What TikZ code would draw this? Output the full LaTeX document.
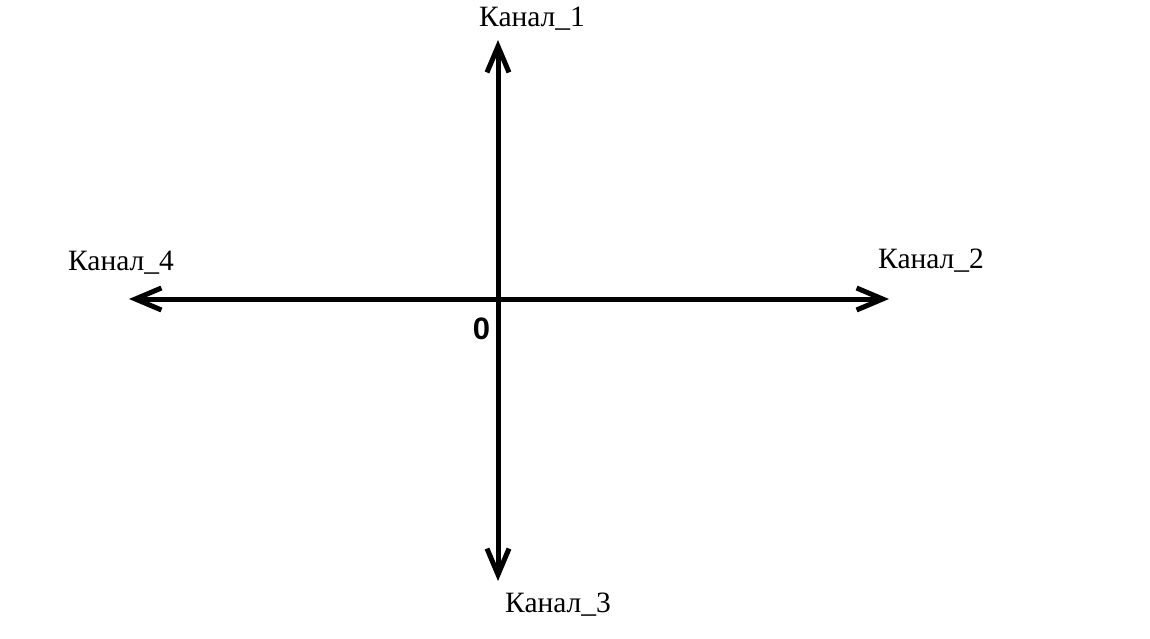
\documentclass[tikz,border=0pt]{standalone}
\usepackage{fontspec}
\setmainfont{Liberation Serif}
\newfontfamily\zerofont{Liberation Sans}
\usetikzlibrary{arrows.meta}
\tikzset{
  axis/.style={line width=5pt, line cap=round, -{Straight Barb[length=26pt,width=22pt,line width=5pt]}},
  chlabel/.style={inner sep=0pt, anchor=base west, font=\fontsize{29.5}{34}\selectfont},
  originlabel/.style={inner sep=0pt, font=\zerofont\bfseries\fontsize{31}{35}\selectfont}
}
\begin{document}
\begin{tikzpicture}[x=1pt,y=-1pt]
\useasboundingbox (0,0) rectangle (1150,639);
\fill[white] (0,0) rectangle (1150,639);
\coordinate (O) at (498,299);
\coordinate (top) at (498,40);
\coordinate (bottom) at (498,581);
\coordinate (left) at (129,299);
\coordinate (right) at (889,299);
\draw[axis] (O) -- (top);
\draw[axis] (O) -- (bottom);
\draw[axis] (O) -- (left);
\draw[axis] (O) -- (right);
\node[chlabel] (c1) at (479,27) {Канал\_1};
\node[chlabel] (c2) at (878,268) {Канал\_2};
\node[chlabel] (c3) at (505,612) {Канал\_3};
\node[chlabel] (c4) at (68,270) {Канал\_4};
\node[originlabel] (zero) at (481.5,329) {0};
\end{tikzpicture}
\end{document}
